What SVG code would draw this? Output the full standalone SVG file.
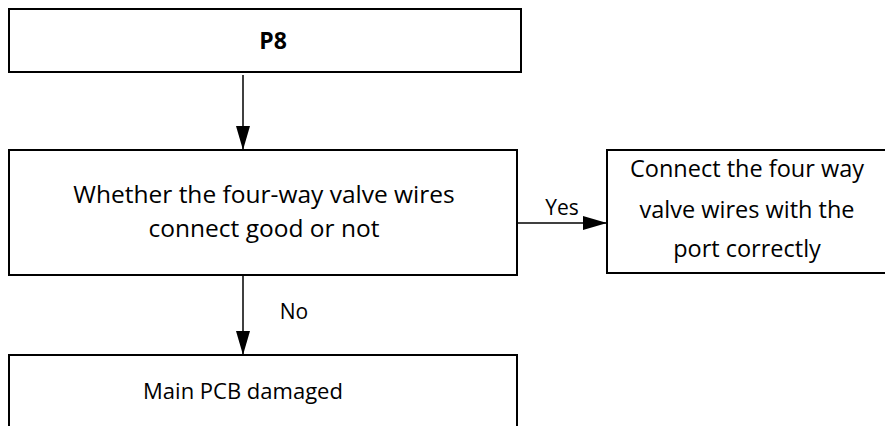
<svg xmlns="http://www.w3.org/2000/svg" width="885" height="426" viewBox="0 0 885 426">
<style>
.box{fill:#fff;stroke:#000;stroke-width:2}
.t{font-family:"Open Sans","Noto Sans","Liberation Sans",sans-serif;fill:#000;text-anchor:middle}
.m{font-size:24.5px}
.r{font-size:23.5px}
.b{font-weight:bold;font-size:23px}
.l{font-size:21px}
.p{font-size:22px}
.c{stroke:#000;stroke-width:1.5;fill:none}
</style>
<defs>
<marker id="ah" viewBox="0 0 24 14" refX="24" refY="7" markerWidth="24" markerHeight="14" markerUnits="userSpaceOnUse" orient="auto">
<path d="M0,0 L24,7 L0,14 z" fill="#000"/>
</marker>
</defs>
<g id="n1"><rect class="box" x="9" y="9" width="512" height="63"/><text class="t b" x="273" y="49">P8</text></g>
<g id="n2"><rect class="box" x="9" y="150" width="508" height="125"/>
<text class="t m" x="264" y="203">Whether the four-way valve wires</text>
<text class="t m" x="264" y="237">connect good or not</text></g>
<g id="n3"><rect class="box" x="607" y="150" width="290" height="123"/>
<text class="t r" x="747" y="177">Connect the four way</text>
<text class="t r" x="747" y="218">valve wires with the</text>
<text class="t r" x="747" y="257">port correctly</text></g>
<g id="n4"><rect class="box" x="9" y="355" width="508" height="80"/>
<text class="t p" x="243" y="399">Main PCB damaged</text></g>
<g id="edges">
<line class="c" x1="243" y1="75" x2="243" y2="150" marker-end="url(#ah)"/>
<line class="c" x1="517" y1="223" x2="607" y2="223" marker-end="url(#ah)"/>
<line class="c" x1="243" y1="276" x2="243" y2="355" marker-end="url(#ah)"/>
<text class="t l" x="562" y="215">Yes</text>
<text class="t l" x="294" y="319">No</text>
</g>
</svg>
